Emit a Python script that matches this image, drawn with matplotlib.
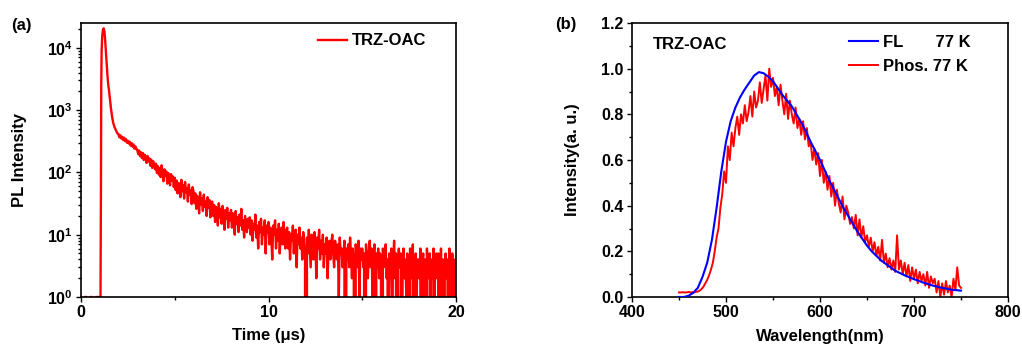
import matplotlib
matplotlib.use("Agg")
import matplotlib.pyplot as plt
import numpy as np
from matplotlib.ticker import MultipleLocator, LogLocator, FuncFormatter, NullFormatter

plt.rcParams["font.family"] = "Liberation Sans"
plt.rcParams["font.weight"] = "bold"
plt.rcParams["axes.labelweight"] = "bold"
plt.rcParams["mathtext.fontset"] = "custom"
plt.rcParams["mathtext.bf"] = "Liberation Sans:bold"
plt.rcParams["mathtext.rm"] = "Liberation Sans:bold"
plt.rcParams["font.size"] = 11.5

#
# (a) transient PL decay, counts
#
head_time = [0.0, 0.1, 0.2, 0.3, 0.4, 0.5, 0.6, 0.7, 0.8, 0.9, 1.0,
             1.04, 1.06, 1.08, 1.10, 1.13, 1.17, 1.21, 1.25,
             1.29, 1.33, 1.37, 1.41, 1.45, 1.5, 1.55, 1.6, 1.66, 1.72,
             1.78, 1.84, 1.9, 1.95]
head_counts = [1, 0, 1, 1, 0, 1, 1, 0, 1, 1, 1,
               1, 30, 2500, 9000, 15000, 19500, 20500, 18500,
               13000, 8500, 5500, 3600, 2600, 2000, 1450, 1050, 780, 620,
               540, 490, 450, 420]

# tail sampled every 0.05 us from 2.0 us, one row per microsecond
tail_start = 2.0
tail_step = 0.05
tail_counts = [
    410, 365, 395, 350, 372, 330, 361, 318, 342, 300, 322, 290, 312, 268, 296, 258, 281, 240, 262, 236,
    232, 196, 224, 182, 210, 170, 205, 158, 192, 176, 142, 184, 150, 168, 128, 160, 118, 151, 132, 112,
    138, 98, 126, 92, 118, 84, 130, 96, 72, 112, 88, 104, 66, 98, 80, 62, 94, 74, 86, 58,
    82, 52, 74, 46, 68, 60, 40, 76, 50, 62, 38, 70, 48, 56, 34, 64, 44, 52, 31, 58,
    50, 32, 46, 26, 42, 35, 22, 48, 30, 38, 24, 44, 28, 34, 20, 40, 27, 36, 19, 33,
    34, 20, 30, 16, 28, 23, 14, 32, 19, 26, 15, 29, 21, 12, 25, 18, 27, 13, 22, 17,
    25, 13, 22, 16, 10, 24, 15, 19, 11, 21, 14, 26, 12, 17, 9, 20, 15, 11, 18, 13,
    19, 10, 17, 8, 15, 12, 21, 9, 14, 6, 16, 11, 18, 7, 13, 10, 17, 5, 14, 11,
    16, 7, 13, 9, 4, 14, 10, 17, 6, 12, 8, 15, 5, 11, 13, 7, 16, 9, 6, 12,
    13, 6, 11, 4, 10, 8, 14, 5, 9, 12, 3, 10, 7, 13, 6, 9, 4, 11, 8, 5,
    0, 9, 5, 12, 6, 3, 10, 7, 4, 11, 8, 2, 9, 6, 12, 4, 8, 5, 10, 3,
    7, 5, 9, 2, 6, 8, 4, 7, 10, 5, 3, 8, 6, 4, 7, 1, 9, 5, 6, 3,
    5, 8, 0, 6, 4, 7, 3, 9, 5, 2, 6, 4, 0, 7, 5, 3, 8, 1, 6, 4,
    6, 3, 5, 0, 7, 4, 2, 5, 8, 3, 6, 1, 4, 7, 0, 5, 3, 6, 2, 5,
    4, 0, 6, 3, 5, 7, 2, 4, 0, 5, 3, 6, 1, 4, 8, 2, 5, 0, 3, 6,
    3, 5, 0, 4, 6, 2, 4, 1, 5, 3, 0, 6, 2, 4, 7, 0, 3, 5, 1, 4,
    4, 2, 6, 0, 3, 5, 1, 4, 0, 6, 2, 3, 5, 0, 4, 2, 6, 1, 3, 5,
    2, 5, 0, 3, 6, 1, 4, 0, 3, 5, 2, 4, 0, 6, 3, 1, 5, 2, 0, 4,
    3,
]

#
# (b) normalised spectra at 77 K
#
fl_wavelength = [450, 455, 460, 465, 470, 475, 480, 485, 490, 495, 500, 505,
                 510, 515, 520, 525, 530, 535, 540, 545, 550, 555, 560, 565,
                 570, 575, 580, 585, 590, 595, 600, 605, 610, 615, 620, 625,
                 630, 635, 640, 645, 650, 655, 660, 665, 670, 680, 690, 700,
                 710, 720, 730, 740, 750]
fl_intensity = [0.0, 0.0, 0.005, 0.018, 0.04, 0.088, 0.15, 0.25, 0.39, 0.55, 0.68, 0.77,
                0.83, 0.875, 0.91, 0.94, 0.97, 0.985, 0.98, 0.965, 0.945, 0.915, 0.885, 0.86,
                0.835, 0.80, 0.765, 0.725, 0.68, 0.64, 0.60, 0.555, 0.51, 0.47, 0.43, 0.39,
                0.355, 0.32, 0.285, 0.255, 0.225, 0.20, 0.18, 0.16, 0.145, 0.115, 0.095, 0.078,
                0.063, 0.05, 0.04, 0.032, 0.028]

# phosphorescence sampled every 2 nm from 450 nm
phos_start = 450
phos_step = 2
phos_intensity = [
    0.02, 0.02, 0.021, 0.02, 0.02, 0.022, 0.02, 0.021, 0.02, 0.022,
    0.024, 0.028, 0.035, 0.045, 0.06, 0.075, 0.095, 0.12, 0.15, 0.2,
    0.26, 0.3, 0.39, 0.45, 0.55, 0.5, 0.66, 0.6, 0.72, 0.66,
    0.74, 0.79, 0.71, 0.8, 0.76, 0.84, 0.77, 0.81, 0.88, 0.79,
    0.9, 0.83, 0.86, 0.94, 0.85, 0.91, 0.97, 0.86, 1.0, 0.92,
    0.96, 0.88, 0.92, 0.84, 0.93, 0.86, 0.8, 0.89, 0.78, 0.86,
    0.8, 0.76, 0.83, 0.74, 0.78, 0.71, 0.77, 0.69, 0.74, 0.66,
    0.68, 0.6, 0.65, 0.58, 0.63, 0.53, 0.6, 0.5, 0.55, 0.47,
    0.53, 0.44, 0.5, 0.4, 0.47, 0.41, 0.37, 0.44, 0.34, 0.4,
    0.37, 0.32, 0.35, 0.3, 0.36, 0.27, 0.34, 0.26, 0.31, 0.24,
    0.27, 0.22, 0.26, 0.2, 0.24, 0.18, 0.22, 0.16, 0.25, 0.15,
    0.19, 0.13, 0.17, 0.12, 0.16, 0.11, 0.27, 0.12, 0.16, 0.1,
    0.15, 0.09, 0.14, 0.07, 0.13, 0.08, 0.12, 0.06, 0.11, 0.07,
    0.1, 0.05, 0.11, 0.04, 0.09, 0.06, 0.08, 0.02, 0.07, 0.0,
    0.06, 0.01, 0.07, 0.02, 0.05, 0.0, 0.08, 0.03, 0.13, 0.05,
    0.04,
]

RED = "#ff0000"
BLUE = "#0000ff"
FS = 12


def style_axes(ax):
    for side in ax.spines.values():
        side.set_linewidth(1.2)
    ax.tick_params(which="both", direction="out", width=1.0, labelsize=11.5, pad=2.5)
    ax.tick_params(which="major", length=3.5)
    ax.tick_params(which="minor", length=2)


fig = plt.figure(figsize=(10.22, 3.45), dpi=100)

# ---- panel (a)
ax1 = fig.add_axes([81 / 1022, 48 / 345, 375 / 1022, 274 / 345])
tail_time = tail_start + tail_step * np.arange(len(tail_counts))
time = np.concatenate([head_time, tail_time])
counts = np.concatenate([head_counts, tail_counts]).astype(float)
ax1.plot(time, counts, color=RED, lw=1.7, label="TRZ-OAC")
ax1.set_yscale("log", nonpositive="clip")
ax1.set_xlim(0, 20)
ax1.set_ylim(1, 2.5e4)
ax1.xaxis.set_major_locator(MultipleLocator(10))
ax1.xaxis.set_minor_locator(MultipleLocator(5))
ax1.yaxis.set_major_locator(LogLocator(base=10))
ax1.yaxis.set_minor_locator(LogLocator(base=10, subs=np.arange(2, 10)))
ax1.yaxis.set_minor_formatter(NullFormatter())
ax1.yaxis.set_major_formatter(FuncFormatter(lambda v, p: r"$\mathbf{10^{%d}}$" % round(np.log10(v))))
style_axes(ax1)
ax1.set_xlabel("Time (\u03bcs)", fontsize=FS)
ax1.set_ylabel("PL Intensity", fontsize=FS)
ax1.xaxis.set_label_coords(0.5, -0.139)
ax1.xaxis.label.set_va("center")
ax1.yaxis.set_label_coords(-0.163, 0.5)
ax1.yaxis.label.set_va("center")
ax1.legend(loc="upper left", bbox_to_anchor=(0.631, 0.962), frameon=False,
           borderpad=0, borderaxespad=0, handlelength=1.75, handletextpad=0.3,
           prop={"size": FS, "weight": "bold"})

# ---- panel (b)
ax2 = fig.add_axes([632 / 1022, 48 / 345, 376 / 1022, 274 / 345])
phos_wavelength = phos_start + phos_step * np.arange(len(phos_intensity))
ax2.plot(fl_wavelength, fl_intensity, color=BLUE, lw=1.5, label="FL       77 K", zorder=3)
ax2.plot(phos_wavelength, phos_intensity, color=RED, lw=1.4, label="Phos. 77 K", zorder=2)
ax2.set_xlim(400, 800)
ax2.set_ylim(0, 1.2)
ax2.xaxis.set_major_locator(MultipleLocator(100))
ax2.xaxis.set_minor_locator(MultipleLocator(50))
ax2.yaxis.set_major_locator(MultipleLocator(0.2))
ax2.yaxis.set_minor_locator(MultipleLocator(0.1))
ax2.yaxis.set_major_formatter(FuncFormatter(lambda v, p: "%.1f" % v))
style_axes(ax2)
ax2.set_xlabel("Wavelength(nm)", fontsize=FS)
ax2.set_ylabel("Intensity(a. u.)", fontsize=FS)
ax2.xaxis.set_label_coords(0.5, -0.145)
ax2.xaxis.label.set_va("center")
ax2.yaxis.set_label_coords(-0.157, 0.5)
ax2.yaxis.label.set_va("center")
ax2.text(0.056, 0.922, "TRZ-OAC", transform=ax2.transAxes, fontsize=FS,
         fontweight="bold", va="center", ha="left")
ax2.legend(loc="upper left", bbox_to_anchor=(0.577, 0.958), frameon=False,
           borderpad=0, borderaxespad=0, handlelength=1.75, handletextpad=0.3,
           labelspacing=0.55, prop={"size": FS, "weight": "bold"})

fig.text(11 / 1022, 0.9255, "(a)", fontsize=FS, fontweight="bold", va="center")
fig.text(555 / 1022, 0.9295, "(b)", fontsize=FS, fontweight="bold", va="center")

fig.savefig("out.png", dpi=100)
